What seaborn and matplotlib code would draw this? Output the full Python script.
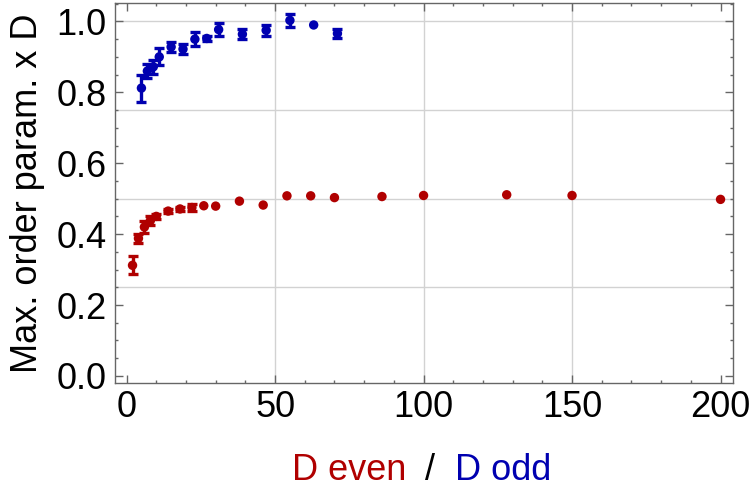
import numpy as np
import pandas as pd
import matplotlib
matplotlib.use("Agg")
import matplotlib.pyplot as plt
import seaborn as sns
from matplotlib.ticker import MultipleLocator

# ---- data ----
even_D = [2, 4, 6, 8, 10, 14, 18, 22, 26, 30, 38, 46, 54, 62, 70, 86, 100, 128, 150, 200]
even_val = [0.312, 0.388, 0.420, 0.438, 0.450, 0.465, 0.471, 0.475, 0.480, 0.479,
            0.493, 0.482, 0.508, 0.508, 0.503, 0.506, 0.509, 0.511, 0.509, 0.498]
even_err = [0.025, 0.013, 0.016, 0.012, 0.007, 0.005, 0.005, 0.009, 0.0, 0.0,
            0.0, 0.0, 0.0, 0.0, 0.0, 0.0, 0.0, 0.0, 0.0, 0.0]

odd_D = [5, 7, 9, 11, 15, 19, 23, 27, 31, 39, 47, 55, 63, 71]
odd_val = [0.812, 0.860, 0.872, 0.900, 0.928, 0.922, 0.950, 0.952, 0.977,
           0.964, 0.975, 1.003, 0.990, 0.966]
odd_err = [0.038, 0.020, 0.020, 0.024, 0.015, 0.013, 0.019, 0.008, 0.018,
           0.014, 0.016, 0.019, 0.0, 0.012]

x_ticks = [0, 50, 100, 150, 200]
y_ticks = [0.0, 0.2, 0.4, 0.6, 0.8, 1.0]
y_label = "Max. order param. x D"
x_label_parts = ["D even", "/", "D odd"]

RED = "#b00000"
BLUE = "#0000b0"

sns.set_theme(style="white")
plt.rcParams["font.family"] = ["Liberation Sans", "DejaVu Sans"]

df_even = pd.DataFrame({"D": even_D, "val": even_val, "err": even_err})
df_odd = pd.DataFrame({"D": odd_D, "val": odd_val, "err": odd_err})

fig = plt.figure(figsize=(7.54, 4.95), dpi=100)
ax = fig.add_axes([115 / 754, 1 - 383 / 495, 618 / 754, 380 / 495])

# grid lines
for gx in [50, 100, 150]:
    ax.axvline(gx, color="#d2d2d2", lw=1.0, zorder=0)
for gy in [0.25, 0.5, 0.75, 1.0]:
    ax.axhline(gy, color="#d2d2d2", lw=1.0, zorder=0)

for df, col in [(df_even, RED), (df_odd, BLUE)]:
    e = df[df["err"] > 0]
    ax.errorbar(e["D"], e["val"], yerr=e["err"], fmt="none", ecolor=col,
                elinewidth=2.4, capsize=3.8, capthick=2.4, zorder=2)
    sns.scatterplot(data=df, x="D", y="val", color=col, s=46, edgecolor="none",
                    ax=ax, zorder=3, legend=False)

ax.set_xlim(-3.9, 204.2)
ax.set_ylim(-0.020, 1.052)

ax.set_xticks(x_ticks)
ax.set_xticklabels([str(t) for t in x_ticks])
ax.set_yticks(y_ticks)
ax.set_yticklabels([f"{t:.1f}" for t in y_ticks])
ax.xaxis.set_minor_locator(MultipleLocator(10))
ax.yaxis.set_minor_locator(MultipleLocator(0.05))

ax.tick_params(which="both", direction="in", top=True, right=True,
               bottom=True, left=True, color="#666666", width=1.0)
ax.tick_params(which="major", length=5.5, labelsize=26, pad=5, labelcolor="black")
ax.tick_params(which="minor", length=2.5)
ax.tick_params(axis="y", which="major", pad=6)

for sp in ax.spines.values():
    sp.set_color("#666666")
    sp.set_linewidth(1.0)

ax.set_xlabel("")
ax.set_ylabel(y_label, fontsize=26, color="black", va="center")
ax.yaxis.set_label_coords(-0.142, 0.499)

# multi-coloured x label
ax.text(0.2864, -0.255, x_label_parts[0], transform=ax.transAxes, color=RED,
        fontsize=26, ha="left", va="baseline")
ax.text((430 - 115) / 618, -0.255, x_label_parts[1], transform=ax.transAxes,
        color="black", fontsize=26, ha="center", va="baseline")
ax.text((455 - 115) / 618, -0.255, x_label_parts[2], transform=ax.transAxes,
        color=BLUE, fontsize=26, ha="left", va="baseline")

fig.savefig("out.png", dpi=100)
